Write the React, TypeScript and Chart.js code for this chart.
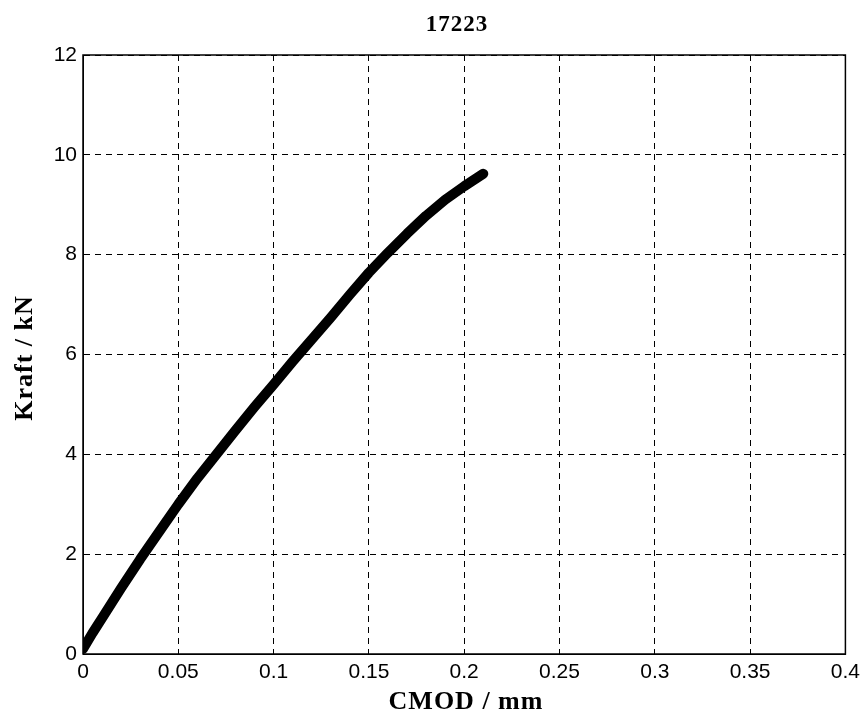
import React, { useEffect, useRef } from "react";
import { Chart, registerables } from "chart.js";

Chart.register(...registerables);

const chartTitle = "17223";
const xTitle = "CMOD / mm";
const yTitle = "Kraft / kN";

const cmod = [0, 0.005, 0.01, 0.02, 0.03, 0.04, 0.05, 0.06, 0.07, 0.08, 0.09, 0.1, 0.11, 0.12, 0.13, 0.14, 0.15, 0.16, 0.17, 0.18, 0.19, 0.2, 0.21];
const kraft = [0.1, 0.42, 0.72, 1.32, 1.9, 2.45, 3.0, 3.52, 4.0, 4.48, 4.95, 5.4, 5.86, 6.3, 6.74, 7.2, 7.64, 8.04, 8.42, 8.78, 9.1, 9.37, 9.62];

const xMin = 0, xMax = 0.4, xStep = 0.05;
const yMin = 0, yMax = 12, yStep = 2;

const tickFont = { family: "'Liberation Sans', Arial, sans-serif", size: 21 };

const titlesPlugin = {
  id: "titles",
  afterDraw(chart: any) {
    const { ctx, chartArea } = chart;
    ctx.save();
    ctx.setLineDash([]);
    ctx.strokeStyle = "#000";
    ctx.lineWidth = 1.5;
    ctx.strokeRect(chartArea.left, chartArea.top, chartArea.right - chartArea.left, chartArea.bottom - chartArea.top);
    ctx.fillStyle = "#000";
    ctx.textAlign = "center";
    ctx.textBaseline = "middle";
    ctx.font = "bold 23px 'Liberation Serif', 'Times New Roman', serif";
    (ctx as any).letterSpacing = "1px";
    ctx.fillText(chartTitle, 457, 25);
    ctx.font = "bold 26px 'Liberation Serif', 'Times New Roman', serif";
    (ctx as any).letterSpacing = "1px";
    ctx.fillText(xTitle, 466, 702);
    ctx.translate(25, 358);
    ctx.rotate(-Math.PI / 2);
    ctx.fillText(yTitle, 0, 0);
    ctx.restore();
  },
};

export default function App() {
  const ref = useRef<HTMLCanvasElement>(null);
  useEffect(() => {
    if (!ref.current) return;
    const data = cmod.map((x, i) => ({ x, y: kraft[i] }));
    const chart = new Chart(ref.current, {
      type: "line",
      data: {
        datasets: [
          {
            data,
            borderColor: "#000",
            borderWidth: 10,
            borderCapStyle: "round",
            borderJoinStyle: "round",
            pointRadius: 0,
            tension: 0,
            fill: false,
          },
        ],
      },
      options: {
        animation: false,
        responsive: true,
        maintainAspectRatio: false,
        layout: { padding: { top: 55, right: 19, left: 0, bottom: 0 } },
        plugins: { legend: { display: false }, title: { display: false }, tooltip: { enabled: false } },
        scales: {
          x: {
            type: "linear",
            min: xMin,
            max: xMax,
            afterFit(scale: any) {
              scale.height = 66;
            },
            ticks: {
              stepSize: xStep,
              color: "#000",
              font: tickFont,
              padding: 6,
              maxRotation: 0,
              autoSkip: false,
              callback: (v: any) => String(Number(Number(v).toFixed(2))),
            },
            grid: { color: "#000", lineWidth: 1, drawTicks: false },
            border: { display: true, color: "#000", dash: [6, 5] },
          },
          y: {
            type: "linear",
            min: yMin,
            max: yMax,
            afterFit(scale: any) {
              scale.width = 83;
            },
            ticks: {
              stepSize: yStep,
              color: "#000",
              font: tickFont,
              padding: 6,
              autoSkip: false,
            },
            grid: { color: "#000", lineWidth: 1, drawTicks: false },
            border: { display: true, color: "#000", dash: [6, 5] },
          },
        },
      },
      plugins: [titlesPlugin],
    });
    return () => chart.destroy();
  }, []);
  return (
    <div style={{ position: "absolute", left: 0, top: 0, width: 866, height: 720, background: "#fff" }}>
      <canvas ref={ref} />
    </div>
  );
}
